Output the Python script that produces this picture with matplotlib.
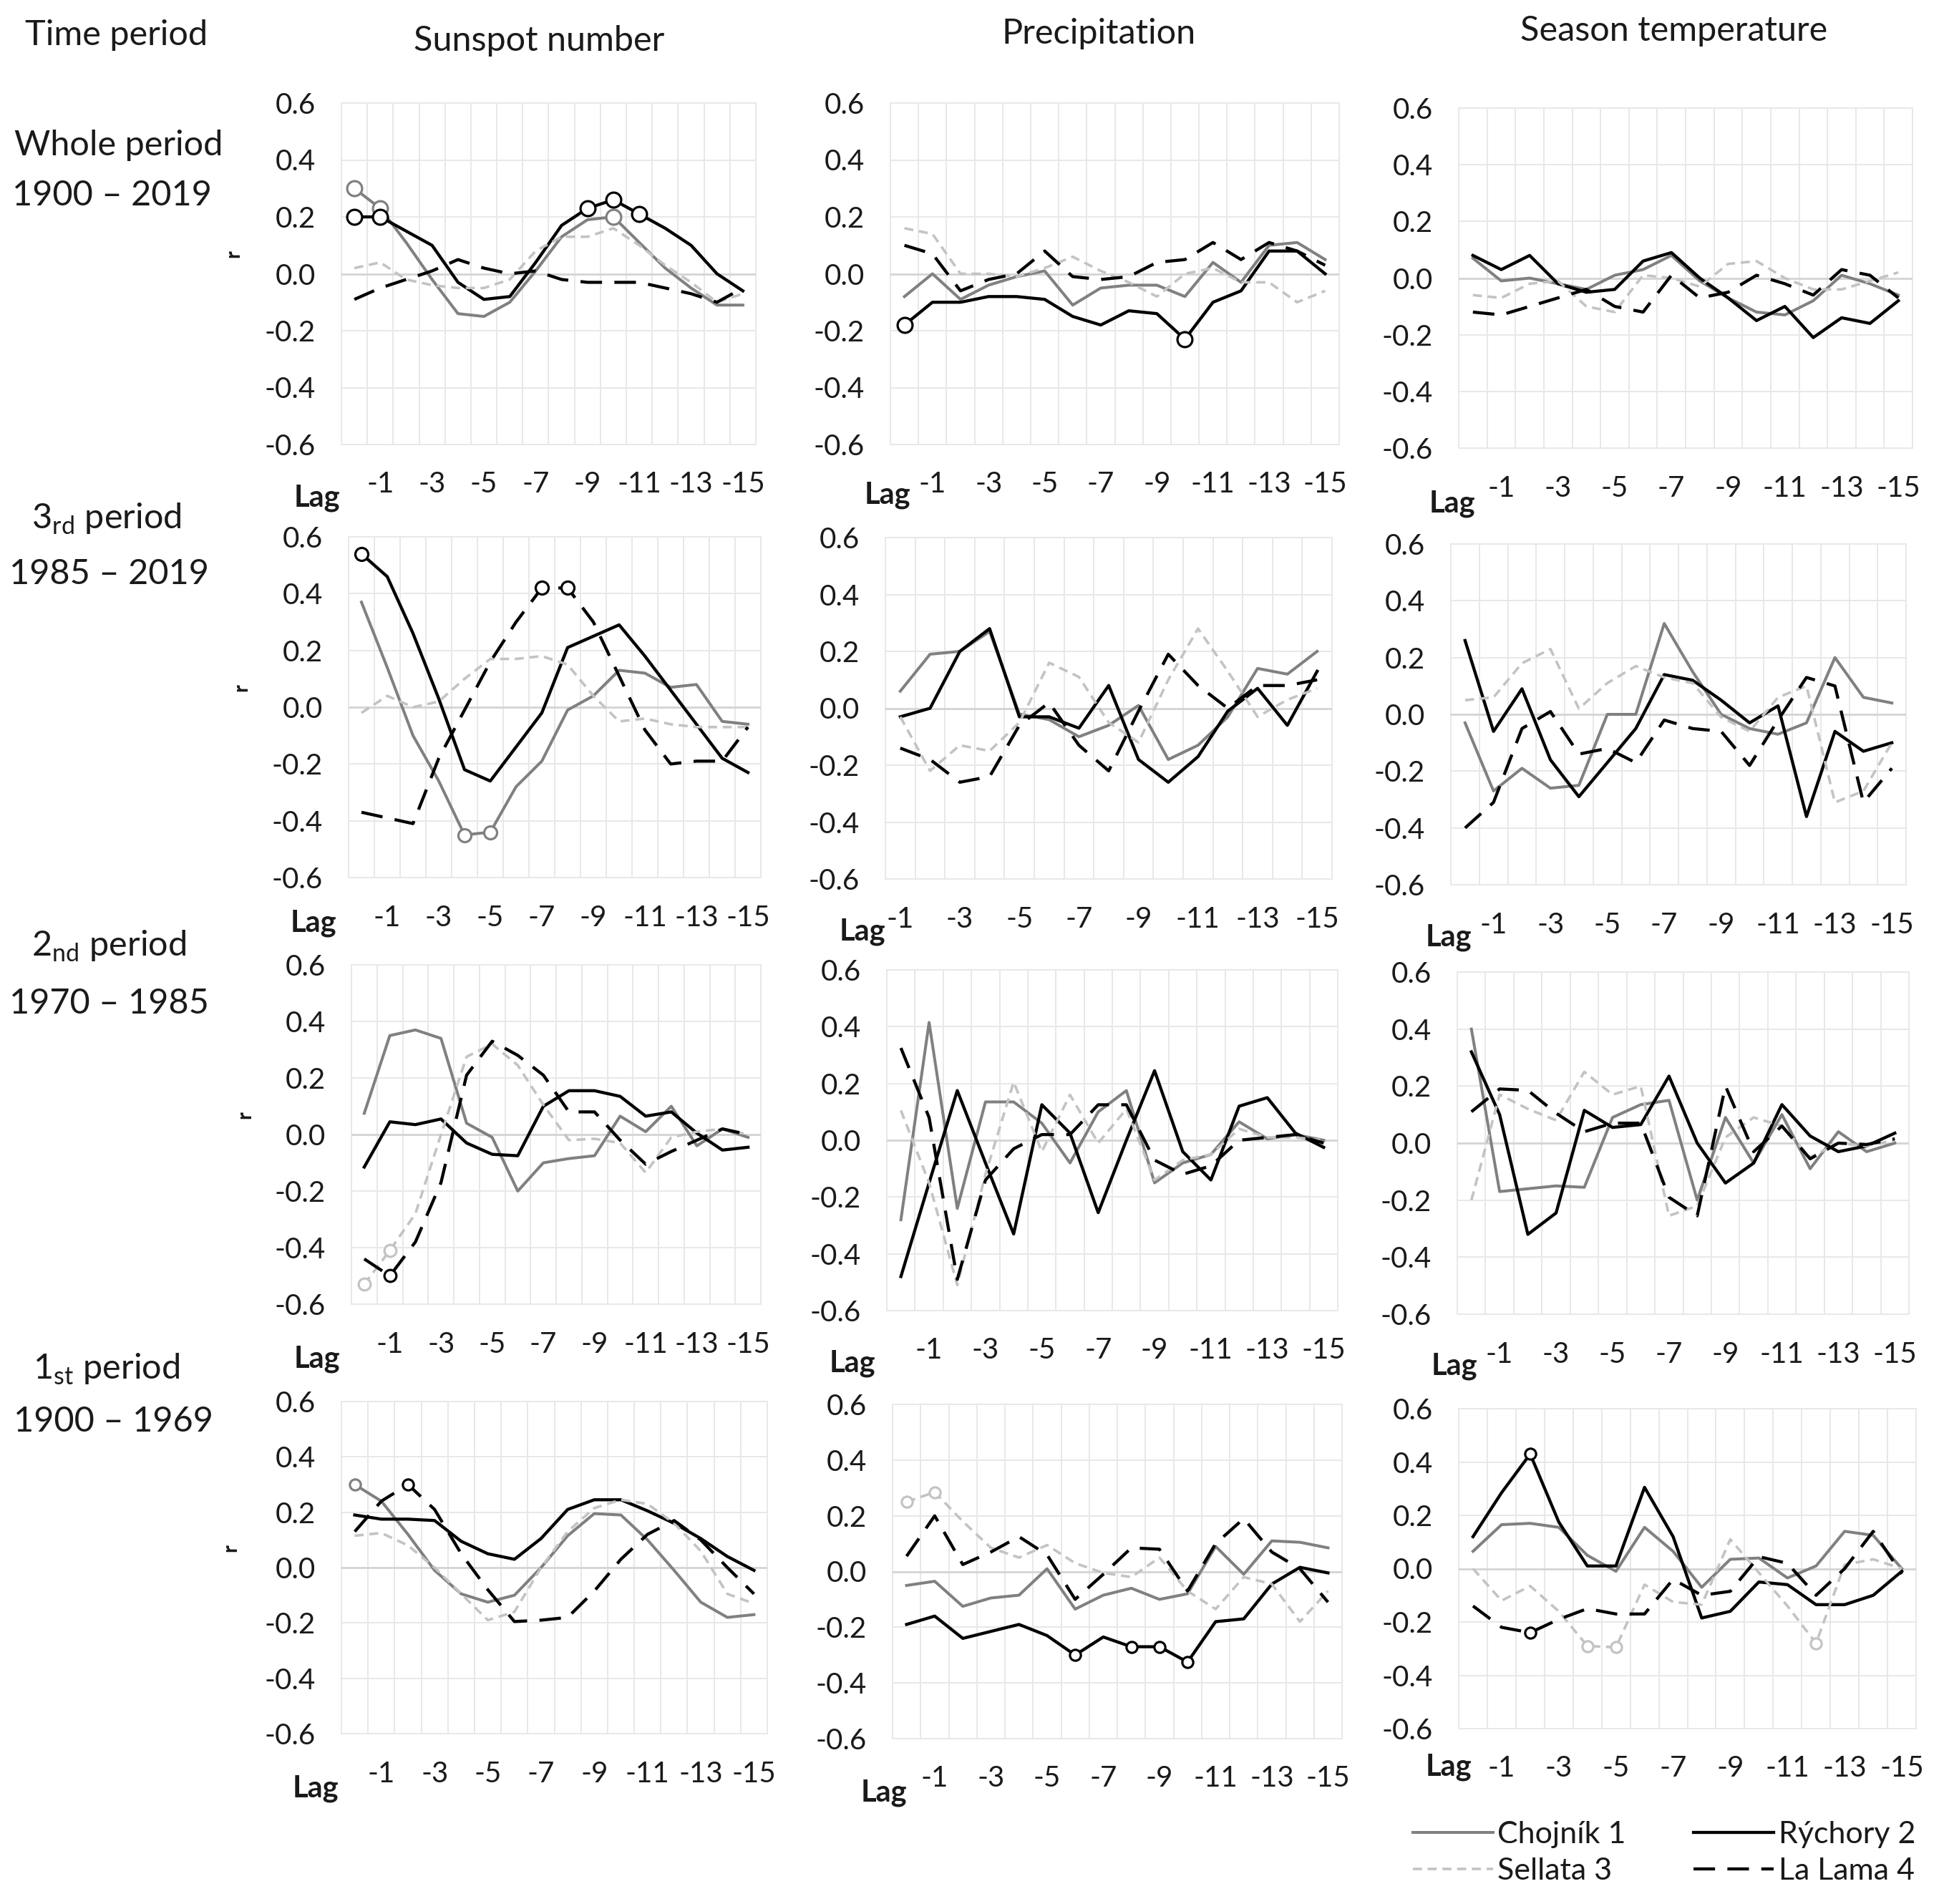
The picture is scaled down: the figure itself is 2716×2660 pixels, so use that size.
import matplotlib.pyplot as plt
import matplotlib.transforms as mtransforms

plt.rcParams['font.family'] = ['Lato', 'DejaVu Sans']
plt.rcParams['mathtext.fontset'] = 'custom'
plt.rcParams['mathtext.rm'] = 'Lato'

# categories
lags16 = [0, -1, -2, -3, -4, -5, -6, -7, -8, -9, -10, -11, -12, -13, -14, -15]
lags15 = [-1, -2, -3, -4, -5, -6, -7, -8, -9, -10, -11, -12, -13, -14, -15]

series_names = ["Chojník 1", "Rýchory 2", "Sellata 3", "La Lama 4"]
col_titles = ["Sunspot number", "Precipitation", "Season temperature"]
row_titles = [("Whole period", "1900 – 2019"),
              ("3$_{\\rm rd}$ period", "1985 – 2019"),
              ("2$_{\\rm nd}$ period", "1970 – 1985"),
              ("1$_{\\rm st}$ period", "1900 – 1969")]

# ---- whole period 1900-2019 ----
sun_whole_ch = [0.30, 0.23, 0.11, -0.02, -0.14, -0.15, -0.10, 0.01, 0.13, 0.19, 0.20, 0.11, 0.02, -0.05, -0.11, -0.11]
sun_whole_ry = [0.20, 0.20, 0.15, 0.10, -0.03, -0.09, -0.08, 0.04, 0.17, 0.23, 0.26, 0.21, 0.16, 0.10, 0.00, -0.06]
sun_whole_se = [0.02, 0.04, -0.02, -0.04, -0.05, -0.05, -0.02, 0.08, 0.13, 0.13, 0.16, 0.10, 0.03, -0.03, -0.10, -0.07]
sun_whole_ll = [-0.09, -0.05, -0.02, 0.01, 0.05, 0.02, 0.00, 0.01, -0.02, -0.03, -0.03, -0.03, -0.05, -0.07, -0.10, -0.05]
sun_whole_sig = {"ch": [0, 1, 10], "ry": [0, 1, 9, 10, 11]}

pre_whole_ch = [-0.08, 0.00, -0.09, -0.04, -0.01, 0.01, -0.11, -0.05, -0.04, -0.04, -0.08, 0.04, -0.03, 0.10, 0.11, 0.05]
pre_whole_ry = [-0.18, -0.10, -0.10, -0.08, -0.08, -0.09, -0.15, -0.18, -0.13, -0.14, -0.23, -0.10, -0.06, 0.08, 0.08, 0.00]
pre_whole_se = [0.16, 0.14, 0.00, 0.00, -0.01, 0.02, 0.06, 0.01, -0.03, -0.08, 0.00, 0.02, -0.03, -0.03, -0.10, -0.06]
pre_whole_ll = [0.10, 0.07, -0.06, -0.02, 0.00, 0.08, -0.01, -0.02, -0.01, 0.04, 0.05, 0.11, 0.05, 0.11, 0.08, 0.03]
pre_whole_sig = {"ry": [0, 10]}

tem_whole_ch = [0.07, -0.01, 0.00, -0.02, -0.04, 0.01, 0.03, 0.08, -0.01, -0.07, -0.12, -0.13, -0.08, 0.01, -0.02, -0.06]
tem_whole_ry = [0.08, 0.03, 0.08, -0.02, -0.05, -0.04, 0.06, 0.09, 0.00, -0.07, -0.15, -0.10, -0.21, -0.14, -0.16, -0.08]
tem_whole_se = [-0.06, -0.07, -0.02, -0.01, -0.10, -0.12, 0.01, 0.00, -0.03, 0.05, 0.06, 0.00, -0.04, -0.04, -0.01, 0.02]
tem_whole_ll = [-0.12, -0.13, -0.10, -0.07, -0.04, -0.10, -0.12, 0.01, -0.07, -0.05, 0.01, -0.02, -0.06, 0.03, 0.01, -0.07]
tem_whole_sig = {}

# ---- 3rd period 1985-2019 ----
sun_3rd_ch = [0.37, 0.14, -0.10, -0.26, -0.45, -0.44, -0.28, -0.19, -0.01, 0.04, 0.13, 0.12, 0.07, 0.08, -0.05, -0.06]
sun_3rd_ry = [0.54, 0.46, 0.26, 0.03, -0.22, -0.26, -0.14, -0.02, 0.21, 0.25, 0.29, 0.18, 0.06, -0.06, -0.18, -0.23]
sun_3rd_se = [-0.02, 0.04, 0.00, 0.02, 0.10, 0.17, 0.17, 0.18, 0.15, 0.04, -0.05, -0.04, -0.06, -0.07, -0.07, -0.07]
sun_3rd_ll = [-0.37, -0.39, -0.41, -0.18, -0.01, 0.16, 0.30, 0.42, 0.42, 0.30, 0.11, -0.08, -0.20, -0.19, -0.19, -0.07]
sun_3rd_sig = {"ch": [4, 5], "ry": [0], "ll": [7, 8]}

pre_3rd_ch = [0.06, 0.19, 0.20, 0.27, -0.02, -0.04, -0.10, -0.06, 0.01, -0.18, -0.13, -0.03, 0.14, 0.12, 0.20]
pre_3rd_ry = [-0.03, 0.00, 0.20, 0.28, -0.03, -0.03, -0.07, 0.08, -0.18, -0.26, -0.17, -0.01, 0.07, -0.06, 0.13]
pre_3rd_se = [-0.03, -0.22, -0.13, -0.15, -0.05, 0.16, 0.11, -0.05, -0.12, 0.10, 0.28, 0.13, -0.03, 0.03, 0.07]
pre_3rd_ll = [-0.14, -0.18, -0.26, -0.24, -0.06, 0.02, -0.13, -0.22, -0.01, 0.19, 0.08, 0.00, 0.08, 0.08, 0.10]
pre_3rd_sig = {}

tem_3rd_ch = [-0.03, -0.27, -0.19, -0.26, -0.25, 0.00, 0.00, 0.32, 0.15, 0.00, -0.05, -0.07, -0.03, 0.20, 0.06, 0.04]
tem_3rd_ry = [0.26, -0.06, 0.09, -0.16, -0.29, -0.17, -0.05, 0.14, 0.12, 0.05, -0.03, 0.03, -0.36, -0.06, -0.13, -0.10]
tem_3rd_se = [0.05, 0.06, 0.18, 0.23, 0.02, 0.11, 0.17, 0.13, 0.11, -0.01, -0.06, 0.06, 0.10, -0.31, -0.27, -0.10]
tem_3rd_ll = [-0.40, -0.31, -0.05, 0.01, -0.14, -0.12, -0.17, -0.02, -0.05, -0.06, -0.18, -0.02, 0.13, 0.10, -0.31, -0.19]
tem_3rd_sig = {}

# ---- 2nd period 1970-1985 ----
sun_2nd_ch = [0.075, 0.35, 0.37, 0.34, 0.04, -0.01, -0.20, -0.10, -0.085, -0.075, 0.065, 0.01, 0.10, -0.04, 0.02, -0.01]
sun_2nd_ry = [-0.115, 0.045, 0.035, 0.055, -0.03, -0.07, -0.075, 0.10, 0.155, 0.155, 0.135, 0.065, 0.08, 0.005, -0.055, -0.045]
sun_2nd_se = [-0.53, -0.41, -0.28, 0.00, 0.275, 0.32, 0.245, 0.105, -0.02, -0.015, -0.03, -0.135, -0.01, 0.01, 0.02, 0.00]
sun_2nd_ll = [-0.44, -0.50, -0.38, -0.17, 0.21, 0.33, 0.28, 0.21, 0.08, 0.08, -0.02, -0.105, -0.06, -0.02, 0.02, 0.00]
sun_2nd_sig = {"se": [0, 1], "ll": [1]}

pre_2nd_ch = [-0.28, 0.415, -0.24, 0.135, 0.135, 0.06, -0.08, 0.10, 0.175, -0.15, -0.08, -0.05, 0.065, 0.005, 0.02, 0.00]
pre_2nd_ry = [-0.48, -0.15, 0.175, -0.08, -0.33, 0.125, 0.025, -0.255, 0.00, 0.245, -0.04, -0.14, 0.12, 0.15, 0.025, -0.025]
pre_2nd_se = [0.105, -0.15, -0.51, -0.12, 0.205, -0.04, 0.16, -0.01, 0.11, -0.14, -0.07, -0.05, 0.04, 0.01, 0.01, 0.00]
pre_2nd_ll = [0.325, 0.08, -0.49, -0.14, -0.03, 0.02, 0.02, 0.125, 0.125, -0.07, -0.12, -0.09, 0.00, 0.01, 0.02, -0.01]
pre_2nd_sig = {}

tem_2nd_ch = [0.40, -0.17, -0.16, -0.15, -0.155, 0.09, 0.135, 0.15, -0.20, 0.09, -0.07, 0.10, -0.09, 0.04, -0.03, 0.00]
tem_2nd_ry = [0.32, 0.10, -0.32, -0.245, 0.115, 0.055, 0.065, 0.235, 0.00, -0.14, -0.07, 0.135, 0.025, -0.03, -0.01, 0.035]
tem_2nd_se = [-0.20, 0.17, 0.12, 0.08, 0.25, 0.17, 0.20, -0.255, -0.22, 0.02, 0.09, 0.06, -0.05, 0.00, -0.01, 0.01]
tem_2nd_ll = [0.11, 0.19, 0.185, 0.105, 0.04, 0.07, 0.07, -0.19, -0.255, 0.20, -0.03, 0.06, -0.055, 0.00, -0.005, 0.015]
tem_2nd_sig = {}

# ---- 1st period 1900-1969 ----
sun_1st_ch = [0.30, 0.24, 0.12, -0.01, -0.095, -0.125, -0.10, 0.00, 0.115, 0.195, 0.19, 0.10, -0.01, -0.125, -0.18, -0.17]
sun_1st_ry = [0.19, 0.175, 0.175, 0.17, 0.095, 0.05, 0.03, 0.105, 0.21, 0.245, 0.245, 0.205, 0.16, 0.105, 0.04, -0.01]
sun_1st_se = [0.115, 0.125, 0.08, 0.00, -0.095, -0.19, -0.16, 0.00, 0.13, 0.215, 0.245, 0.23, 0.16, 0.06, -0.095, -0.13]
sun_1st_ll = [0.13, 0.24, 0.30, 0.21, 0.05, -0.08, -0.195, -0.19, -0.18, -0.085, 0.03, 0.12, 0.17, 0.10, 0.00, -0.095]
sun_1st_sig = {"ch": [0], "ll": [2]}

pre_1st_ch = [-0.05, -0.035, -0.125, -0.095, -0.085, 0.01, -0.135, -0.085, -0.06, -0.10, -0.08, 0.09, -0.01, 0.11, 0.105, 0.085]
pre_1st_ry = [-0.19, -0.16, -0.24, -0.215, -0.19, -0.23, -0.30, -0.235, -0.27, -0.27, -0.325, -0.18, -0.17, -0.045, 0.015, -0.005]
pre_1st_se = [0.25, 0.285, 0.18, 0.085, 0.05, 0.095, 0.03, -0.005, -0.02, 0.05, -0.07, -0.135, -0.02, -0.045, -0.18, -0.07]
pre_1st_ll = [0.055, 0.20, 0.025, 0.07, 0.125, 0.06, -0.10, -0.01, 0.085, 0.08, -0.07, 0.10, 0.19, 0.07, 0.01, -0.11]
pre_1st_sig = {"ry": [6, 8, 9, 10], "se": [0, 1]}

tem_1st_ch = [0.065, 0.165, 0.17, 0.155, 0.05, -0.01, 0.155, 0.065, -0.07, 0.035, 0.04, -0.035, 0.01, 0.14, 0.125, 0.00]
tem_1st_ry = [0.12, 0.285, 0.43, 0.175, 0.01, 0.01, 0.305, 0.12, -0.185, -0.16, -0.05, -0.06, -0.135, -0.135, -0.10, -0.01]
tem_1st_se = [0.00, -0.12, -0.065, -0.16, -0.29, -0.295, -0.06, -0.125, -0.135, 0.11, -0.015, -0.14, -0.28, 0.015, 0.035, 0.00]
tem_1st_ll = [-0.14, -0.22, -0.24, -0.19, -0.15, -0.17, -0.17, -0.04, -0.10, -0.085, 0.045, 0.02, -0.10, 0.00, 0.14, -0.02]
tem_1st_sig = {"ry": [2], "se": [4, 5, 12], "ll": [2]}

panels = [
    [(lags16, sun_whole_ch, sun_whole_ry, sun_whole_se, sun_whole_ll, sun_whole_sig),
     (lags16, pre_whole_ch, pre_whole_ry, pre_whole_se, pre_whole_ll, pre_whole_sig),
     (lags16, tem_whole_ch, tem_whole_ry, tem_whole_se, tem_whole_ll, tem_whole_sig)],
    [(lags16, sun_3rd_ch, sun_3rd_ry, sun_3rd_se, sun_3rd_ll, sun_3rd_sig),
     (lags15, pre_3rd_ch, pre_3rd_ry, pre_3rd_se, pre_3rd_ll, pre_3rd_sig),
     (lags16, tem_3rd_ch, tem_3rd_ry, tem_3rd_se, tem_3rd_ll, tem_3rd_sig)],
    [(lags16, sun_2nd_ch, sun_2nd_ry, sun_2nd_se, sun_2nd_ll, sun_2nd_sig),
     (lags16, pre_2nd_ch, pre_2nd_ry, pre_2nd_se, pre_2nd_ll, pre_2nd_sig),
     (lags16, tem_2nd_ch, tem_2nd_ry, tem_2nd_se, tem_2nd_ll, tem_2nd_sig)],
    [(lags16, sun_1st_ch, sun_1st_ry, sun_1st_se, sun_1st_ll, sun_1st_sig),
     (lags16, pre_1st_ch, pre_1st_ry, pre_1st_se, pre_1st_ll, pre_1st_sig),
     (lags16, tem_1st_ch, tem_1st_ry, tem_1st_se, tem_1st_ll, tem_1st_sig)],
]

# plot boxes in pixels: left, top, right, bottom
W, H = 2716, 2660
boxes = [
    [(477, 144, 1056, 621), (1244, 144, 1871, 621), (2038, 151, 2672, 626)],
    [(487, 750, 1063, 1226), (1237, 751, 1861, 1228), (2027, 760, 2663, 1236)],
    [(491, 1348, 1063, 1822), (1239, 1355, 1869, 1831), (2036, 1358, 2667, 1836)],
    [(477, 1958, 1072, 2422), (1247, 1962, 1875, 2429), (2038, 1968, 2677, 2415)],
]
lag_pos = [
    [(-0.059, -0.157), (-0.006, -0.149), (-0.014, -0.164)],
    [(-0.085, -0.134), (-0.051, -0.154), (-0.005, -0.154)],
    [(-0.084, -0.162), (-0.076, -0.154), (-0.006, -0.153)],
    [(-0.060, -0.166), (-0.019, -0.162), (-0.022, -0.120)],
]
marker_size = [15, 13, 12, 11]

styles = {
    "ch": dict(color="#808080", lw=2.9, ls="-"),
    "ry": dict(color="black", lw=3.1, ls="-"),
    "se": dict(color="#c3c3c3", lw=2.6, ls=(0, (3.5, 2.2))),
    "ll": dict(color="black", lw=3.1, ls=(0, (7, 4))),
}
keys = ["ch", "ry", "se", "ll"]
txt = "#1a1a1a"

fig = plt.figure(figsize=(W / 100, H / 100), dpi=100)

handles = {}
for r in range(4):
    for c in range(3):
        lags, ch, ry, se, ll, sig = panels[r][c]
        l, t, rt, b = boxes[r][c]
        ax = fig.add_axes([l / W, 1 - b / H, (rt - l) / W, (b - t) / H])
        x = list(range(len(lags)))
        for k, vals in zip(keys, [ch, ry, se, ll]):
            st = styles[k]
            line, = ax.plot(x, vals, color=st["color"], lw=st["lw"], ls=st["ls"],
                            solid_joinstyle="round", dash_joinstyle="round", zorder=3)
            handles[k] = line
            if k in sig:
                ax.plot([x[i] for i in sig[k]], [vals[i] for i in sig[k]], ls="none",
                        marker="o", ms=marker_size[r], mfc="white", mec=st["color"],
                        mew=2.3, zorder=4)
        n = len(lags)
        ax.set_xlim(-0.5, n - 0.5)
        ax.set_ylim(-0.6, 0.6)
        ax.set_yticks([-0.6, -0.4, -0.2, 0.0, 0.2, 0.4, 0.6])
        ax.set_yticklabels(["-0.6", "-0.4", "-0.2", "0.0", "0.2", "0.4", "0.6"])
        tick_x = [i for i, v in enumerate(lags) if v % 2 != 0]
        ax.set_xticks(tick_x)
        ax.set_xticklabels([str(lags[i]) for i in tick_x])
        ax.tick_params(axis="both", which="both", length=0, labelsize=29, colors=txt)
        ax.tick_params(axis="y", pad=26)
        ax.tick_params(axis="x", pad=27)
        ax.grid(False)
        for xv in [i - 0.5 for i in range(n + 1)]:
            ax.axvline(xv, color="#e8e8e8", lw=1.4, zorder=1, clip_on=False)
        for yv in [-0.6, -0.4, -0.2, 0.2, 0.4, 0.6]:
            ax.axhline(yv, color="#e8e8e8", lw=1.4, zorder=1, clip_on=False)
        ax.axhline(0, color="#d4d4d4", lw=2.0, zorder=2)
        for s in ax.spines.values():
            s.set_visible(False)
        lx, ly = lag_pos[r][c]
        ax.text(lx, ly, "Lag", transform=ax.transAxes, ha="center", va="center",
                fontsize=30, fontweight="bold", color=txt)
        if c == 0:
            tr = mtransforms.blended_transform_factory(ax.transAxes, ax.transData)
            ax.text(-0.26, 0.07, "r", transform=tr, ha="center", va="center",
                    rotation=90, fontsize=21, fontweight="bold", color=txt)

# headers
fig.text(163 / W, 1 - 49 / H, "Time period", ha="center", va="center", fontsize=35, color=txt)
for title, xp, yp in zip(col_titles, [753, 1535, 2339], [57, 47, 43]):
    fig.text(xp / W, 1 - yp / H, title, ha="center", va="center", fontsize=35, color=txt)
row_y = [(203, 273), (725, 802), (1322, 1402), (1913, 1986)]
row_x = [(166, 156), (149, 152), (152, 152), (149, 158)]
for (t1, t2), (y1, y2), (x1, x2) in zip(row_titles, row_y, row_x):
    fig.text(x1 / W, 1 - y1 / H, t1, ha="center", va="center", fontsize=35, color=txt)
    fig.text(x2 / W, 1 - y2 / H, t2, ha="center", va="center", fontsize=35, color=txt)

fig.legend([handles["ch"], handles["se"], handles["ry"], handles["ll"]],
           [series_names[0], series_names[2], series_names[1], series_names[3]],
           ncol=2, loc="center", bbox_to_anchor=(0.856, 0.027), frameon=False,
           fontsize=31, handlelength=2.6, handletextpad=0.15, columnspacing=2.2,
           labelspacing=0.3, labelcolor=txt, borderpad=0.2)

fig.savefig("out.png", dpi=100, facecolor="white")
